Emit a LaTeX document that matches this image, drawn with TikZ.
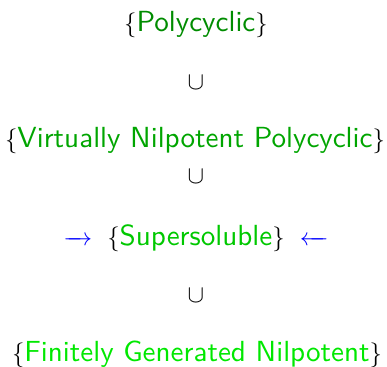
\documentclass[tikz,border=0pt]{standalone}
\usepackage{fontspec}
\setsansfont{lmsans10-regular.otf}
\definecolor{gA}{RGB}{0,140,0}
\definecolor{gB}{RGB}{0,165,0}
\definecolor{gC}{RGB}{0,200,0}
\definecolor{gD}{RGB}{0,232,0}
\definecolor{arr}{RGB}{0,0,255}
\newcommand{\rarr}{{\fontsize{32}{34}\selectfont\textcolor{arr}{$\relbar\mkern-11mu\rightarrow$}}}
\newcommand{\larr}{{\fontsize{32}{34}\selectfont\textcolor{arr}{$\leftarrow\mkern-11mu\relbar$}}}
\begin{document}
\begin{tikzpicture}[x=1bp,y=1bp,
  lbl/.style={anchor=base,inner sep=0pt,font=\fontsize{29.2}{34}\selectfont\sffamily},
  sub/.style={anchor=base,inner sep=0pt,font=\fontsize{32}{34}\selectfont}]
\useasboundingbox (0,0) rectangle (387,367);
\node[lbl] (poly) at (196,336) {$\{$\textcolor{gA}{Polycyclic}$\}$};
\node[sub] (c1) at (196,278) {$\cup$};
\node[lbl] (vnp) at (195,220) {$\{$\textcolor{gB}{Virtually Nilpotent Polycyclic}$\}$};
\node[sub] (c2) at (196,184) {$\cup$};
\node[lbl] (ss) at (196,122) {\rarr\hspace{0.52em}$\{$\textcolor{gC}{Supersoluble}$\}$\hspace{0.52em}\larr};
\node[sub] (c3) at (196,65) {$\cup$};
\node[lbl] (fgn) at (197,6) {$\{$\textcolor{gD}{Finitely Generated Nilpotent}$\}$};
\end{tikzpicture}
\end{document}
